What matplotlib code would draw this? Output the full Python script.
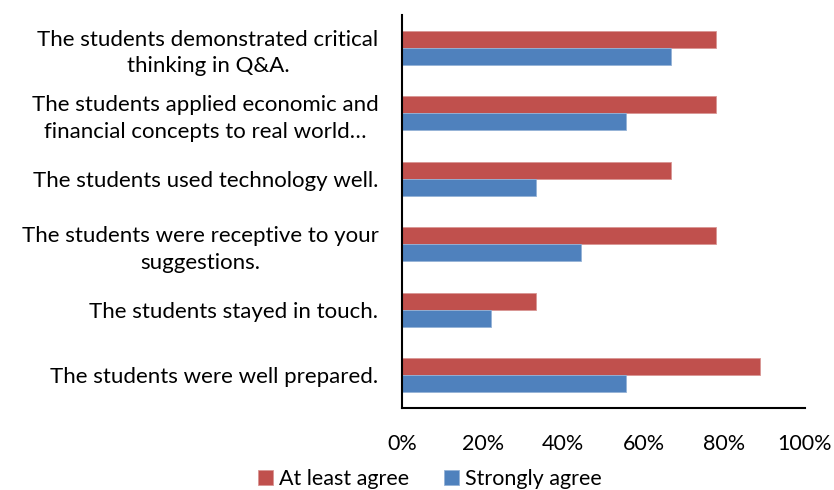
import numpy as np
import matplotlib
matplotlib.use("Agg")
import matplotlib.pyplot as plt

plt.rcParams['font.family'] = ['Lato', 'DejaVu Sans']

# categories top to bottom
categories = [
    "The students demonstrated critical\nthinking in Q&A.",
    "The students applied economic and\nfinancial concepts to real world…",
    "The students used technology well.",
    "The students were receptive to your\nsuggestions.",
    "The students stayed in touch.",
    "The students were well prepared.",
]
at_least_agree = [77.8, 77.8, 66.7, 77.8, 33.3, 88.9]
strongly_agree = [66.7, 55.6, 33.3, 44.4, 22.2, 55.6]
x_ticks = [0, 20, 40, 60, 80, 100]

RED = '#C0504D'
BLUE = '#4F81BD'

fig = plt.figure(figsize=(8.34, 4.9), dpi=100)
ax = fig.add_axes([402/834, 1 - 408/490, 403/834, 393/490])

y = np.arange(len(categories))
h = 0.26
ax.barh(y - h/2, at_least_agree, height=h, color=RED, edgecolor='#D99694', linewidth=0.6, label='At least agree')
ax.barh(y + h/2, strongly_agree, height=h, color=BLUE, edgecolor='#95B3D7', linewidth=0.6, label='Strongly agree')

ax.set_ylim(len(categories) - 0.5, -0.5)
ax.set_xlim(0, 100)
ax.set_xticks(x_ticks)
ax.set_xticklabels([f'{t}%' for t in x_ticks], fontsize=15.5)
ax.set_yticks(y)
ax.set_yticklabels(categories, fontsize=16, multialignment='center', linespacing=1.4)
ax.tick_params(axis='both', length=0)
ax.tick_params(axis='x', pad=19)
ax.tick_params(axis='y', pad=17)

for s in ['top', 'right']:
    ax.spines[s].set_visible(False)
for s in ['left', 'bottom']:
    ax.spines[s].set_linewidth(1.5)
    ax.spines[s].set_color('black')

fig.legend(loc='center', bbox_to_anchor=(430/834, 1 - 479/490), ncol=2, frameon=False,
           fontsize=15.5, handlelength=0.7, handleheight=0.7, handletextpad=0.3, columnspacing=1.6)

fig.savefig('out.png', dpi=100)
